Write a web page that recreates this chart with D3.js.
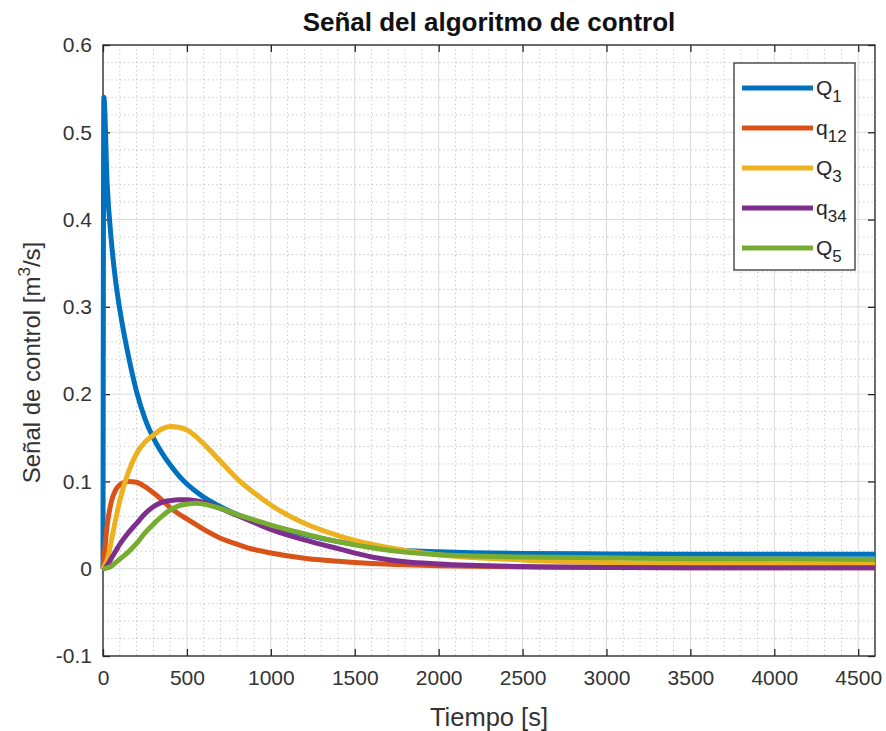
<!DOCTYPE html>
<html>
<head>
<meta charset="utf-8">
<script src="https://cdn.jsdelivr.net/npm/d3@7"></script>
<style>
  html, body { margin: 0; padding: 0; background: #ffffff; }
  svg { display: block; font-family: "Liberation Sans", Arial, Helvetica, sans-serif; }
</style>
</head>
<body>
<svg id="chart" width="886" height="731"></svg>
<script>
// Sample instants [s]
const time = [0, 5, 25, 50, 75, 100, 150, 200, 250, 300, 350, 400, 450, 500, 550, 600, 700, 800, 900, 1000,
              1200, 1400, 1600, 1800, 2000, 2500, 3000, 3500, 4000, 4600];

// Control signals [m^3/s]
const Q1  = [0, 0.54, 0.44, 0.375, 0.33, 0.297, 0.245, 0.203, 0.172, 0.15, 0.133, 0.119, 0.107, 0.097, 0.089, 0.082, 0.071,
             0.062, 0.055, 0.049, 0.039, 0.031, 0.025, 0.021, 0.0195, 0.0175, 0.017, 0.0167, 0.0165, 0.0165];
const q12 = [0, 0.01, 0.05, 0.077, 0.09, 0.096, 0.1, 0.099, 0.094, 0.087, 0.079, 0.07, 0.063, 0.057, 0.051, 0.045, 0.035,
             0.028, 0.022, 0.018, 0.012, 0.0085, 0.006, 0.0045, 0.0035, 0.002, 0.0015, 0.001, 0.001, 0.001];
const Q3  = [0, 0.002, 0.01, 0.032, 0.056, 0.078, 0.11, 0.132, 0.145, 0.153, 0.16, 0.163, 0.162, 0.159, 0.152, 0.143, 0.123,
             0.103, 0.087, 0.073, 0.052, 0.038, 0.028, 0.021, 0.016, 0.01, 0.007, 0.006, 0.0055, 0.005];
const q34 = [0, 0, 0.004, 0.012, 0.02, 0.028, 0.041, 0.052, 0.063, 0.071, 0.076, 0.078, 0.079, 0.079, 0.078, 0.076, 0.069,
             0.061, 0.053, 0.045, 0.033, 0.023, 0.0135, 0.008, 0.0055, 0.0025, 0.0015, 0.001, 0.001, 0.001];
const Q5  = [0, 0, 0.001, 0.003, 0.007, 0.011, 0.019, 0.029, 0.041, 0.051, 0.06, 0.067, 0.072, 0.074, 0.075, 0.074, 0.069,
             0.062, 0.056, 0.05, 0.04, 0.031, 0.024, 0.019, 0.016, 0.0135, 0.0125, 0.0115, 0.011, 0.0105];

// Legend entries: base letter and subscript
const seriesNames = [["Q", "1"], ["q", "12"], ["Q", "3"], ["q", "34"], ["Q", "5"]];
const seriesValues = [Q1, q12, Q3, q34, Q5];
const seriesColors = ["#0072BD", "#D95319", "#EDB120", "#7E2F8E", "#77AC30"];

// Axis ticks and labels
const xTicks = [0, 500, 1000, 1500, 2000, 2500, 3000, 3500, 4000, 4500];
const xTickLabels = ["0", "500", "1000", "1500", "2000", "2500", "3000", "3500", "4000", "4500"];
const yTicks = [-0.1, 0, 0.1, 0.2, 0.3, 0.4, 0.5, 0.6];
const yTickLabels = ["-0.1", "0", "0.1", "0.2", "0.3", "0.4", "0.5", "0.6"];
const xMinorStep = 100;
const yMinorStep = 0.02;

const titleText = "Señal del algoritmo de control";
const xLabelText = "Tiempo [s]";

const svg = d3.select("#chart");
const plotL = 103, plotR = 875, plotT = 45, plotB = 656;

const x = d3.scaleLinear().domain([0, 4600]).range([plotL, plotR]);
const y = d3.scaleLinear().domain([-0.1, 0.6]).range([plotB, plotT]);

const axisColor = "#262626";

// Minor grid (dotted)
const xMinor = d3.range(0, 4600 + 1e-9, xMinorStep).filter(v => !xTicks.includes(v));
const yMinor = d3.range(-0.1, 0.6 + 1e-9, yMinorStep)
  .map(v => Math.round(v * 1000) / 1000)
  .filter(v => !yTicks.some(t => Math.abs(t - v) < 1e-6));

const grid = svg.append("g");
grid.selectAll(".xm").data(xMinor).join("line")
  .attr("x1", d => x(d)).attr("x2", d => x(d)).attr("y1", plotT).attr("y2", plotB)
  .attr("stroke", "#c0c0c0").attr("stroke-width", 1).attr("stroke-dasharray", "1.2,3");
grid.selectAll(".ym").data(yMinor).join("line")
  .attr("x1", plotL).attr("x2", plotR).attr("y1", d => y(d)).attr("y2", d => y(d))
  .attr("stroke", "#c0c0c0").attr("stroke-width", 1).attr("stroke-dasharray", "1.2,3");

// Major grid
grid.selectAll(".xg").data(xTicks).join("line")
  .attr("x1", d => x(d)).attr("x2", d => x(d)).attr("y1", plotT).attr("y2", plotB)
  .attr("stroke", "#dadada").attr("stroke-width", 1);
grid.selectAll(".yg").data(yTicks).join("line")
  .attr("x1", plotL).attr("x2", plotR).attr("y1", d => y(d)).attr("y2", d => y(d))
  .attr("stroke", "#dadada").attr("stroke-width", 1);

// Axes with inward ticks on all four sides
const tickLen = 7;
const xAxisB = d3.axisBottom(x).tickValues(xTicks).tickSize(-tickLen).tickPadding(14)
  .tickFormat((d, i) => xTickLabels[i]);
const xAxisT = d3.axisTop(x).tickValues(xTicks).tickSize(-tickLen).tickFormat("");
const yAxisL = d3.axisLeft(y).tickValues(yTicks).tickSize(-tickLen).tickPadding(11)
  .tickFormat((d, i) => yTickLabels[i]);
const yAxisR = d3.axisRight(y).tickValues(yTicks).tickSize(-tickLen).tickFormat("");

function styleAxis(g) {
  g.select(".domain").remove();
  g.selectAll(".tick line").attr("stroke", axisColor).attr("stroke-width", 1.3);
  g.selectAll(".tick text").attr("fill", "#333333").style("font-size", "21px")
    .style("font-family", "'Liberation Sans', Arial, sans-serif");
}
svg.append("g").attr("transform", `translate(0,${plotB})`).call(xAxisB).call(styleAxis);
svg.append("g").attr("transform", `translate(0,${plotT})`).call(xAxisT).call(styleAxis);
svg.append("g").attr("transform", `translate(${plotL},0)`).call(yAxisL).call(styleAxis);
svg.append("g").attr("transform", `translate(${plotR},0)`).call(yAxisR).call(styleAxis);
svg.append("rect").attr("x", plotL).attr("y", plotT).attr("width", plotR - plotL).attr("height", plotB - plotT)
  .attr("fill", "none").attr("stroke", axisColor).attr("stroke-width", 1.3);

// Data lines
const line = d3.line().x(d => x(d[0])).y(d => y(d[1])).curve(d3.curveMonotoneX);
seriesValues.forEach((vals, k) => {
  svg.append("path")
    .datum(time.map((t, i) => [t, vals[i]]))
    .attr("d", line)
    .attr("fill", "none")
    .attr("stroke", seriesColors[k])
    .attr("stroke-width", 5)
    .attr("stroke-linejoin", "round");
});

// Title
svg.append("text").attr("x", (plotL + plotR) / 2).attr("y", 31).attr("text-anchor", "middle")
  .style("font-size", "26px").style("font-weight", "bold").attr("fill", "#111111").text(titleText);

// X label
svg.append("text").attr("x", (plotL + plotR) / 2).attr("y", 726).attr("text-anchor", "middle")
  .style("font-size", "25.5px").attr("fill", "#333333").text(xLabelText);

// Y label with superscript
const yl = svg.append("text").attr("transform", `translate(40,${(plotT + plotB) / 2 + 12}) rotate(-90)`)
  .attr("text-anchor", "middle").style("font-size", "24px").attr("fill", "#333333");
yl.append("tspan").text("Señal de control [m");
yl.append("tspan").attr("dy", -10).style("font-size", "17px").text("3");
yl.append("tspan").attr("dy", 10).text("/s]");

// Legend
const lg = svg.append("g");
lg.append("rect").attr("x", 734).attr("y", 63).attr("width", 121).attr("height", 207)
  .attr("fill", "#ffffff").attr("stroke", axisColor).attr("stroke-width", 1.2);
const legendY = d3.scaleLinear().domain([0, 4]).range([88, 248]);
seriesNames.forEach((nm, k) => {
  const yy = legendY(k);
  lg.append("line").attr("x1", 742).attr("x2", 813).attr("y1", yy).attr("y2", yy)
    .attr("stroke", seriesColors[k]).attr("stroke-width", 5);
  const t = lg.append("text").attr("x", 816).attr("y", yy + 7).attr("fill", "#262626").style("font-size", "21px");
  t.append("tspan").text(nm[0]);
  t.append("tspan").attr("dy", 7).style("font-size", "17px").text(nm[1]);
});
</script>
</body>
</html>
